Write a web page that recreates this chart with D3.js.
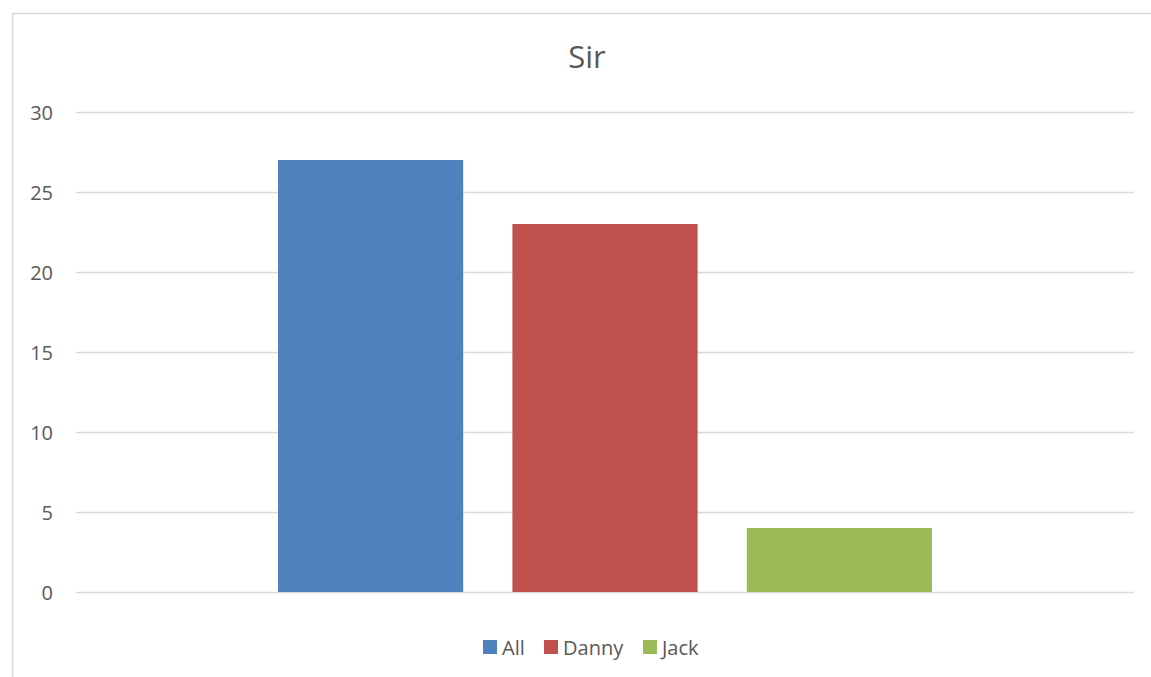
<!DOCTYPE html>
<html><head><meta charset="utf-8">
<script src="https://cdn.jsdelivr.net/npm/d3@7"></script>
<style>body{margin:0;background:#fff;} svg{display:block;}</style>
</head><body>
<svg id="c" width="1151" height="677"></svg>
<script>
const title = "Sir";
const seriesNames = ["All", "Danny", "Jack"];
const seriesValues = [27, 23, 4];
const seriesColors = ["#4F81BD", "#C0504D", "#9BBB59"];
const yTicks = [0, 5, 10, 15, 20, 25, 30];

const svg = d3.select("#c");
const font = "'Open Sans', 'Noto Sans', sans-serif";
const textColor = "#595959";

// chart border
svg.append("rect").attr("x", 12.5).attr("y", 13.5).attr("width", 1160).attr("height", 700)
  .attr("fill", "none").attr("stroke", "#D9D9D9").attr("stroke-width", 1.5);

const plotLeft = 76, plotRight = 1134;
const y = d3.scaleLinear().domain([0, 30]).range([592, 112]);
const x = d3.scaleBand().domain(seriesNames).range([278, 932]).paddingInner(0.21).paddingOuter(0);

// gridlines
svg.append("g").selectAll("line").data(yTicks).join("line")
  .attr("x1", plotLeft).attr("x2", plotRight)
  .attr("y1", d => Math.round(y(d)) + 0.5).attr("y2", d => Math.round(y(d)) + 0.5)
  .attr("stroke", "#D9D9D9").attr("stroke-width", 1.5);

// y axis labels
const yAxis = d3.axisLeft(y).tickValues(yTicks).tickSize(0).tickPadding(0);
const ga = svg.append("g").attr("transform", "translate(53,0)").call(yAxis);
ga.select(".domain").remove();
ga.selectAll("text").attr("font-family", font).attr("font-size", 20).attr("fill", textColor).attr("dy", "0.35em");

// bars
svg.append("g").selectAll("rect").data(seriesNames).join("rect")
  .attr("x", d => x(d)).attr("width", x.bandwidth())
  .attr("y", (d, i) => y(seriesValues[i])).attr("height", (d, i) => y(0) - y(seriesValues[i]))
  .attr("fill", (d, i) => seriesColors[i]);

// title
svg.append("text").attr("x", 587).attr("y", 68).attr("text-anchor", "middle")
  .attr("font-family", font).attr("font-size", 31).attr("fill", textColor).text(title);

// legend
const legendX = [483, 544, 643];
const lg = svg.append("g").selectAll("g").data(seriesNames).join("g")
  .attr("transform", (d, i) => `translate(${legendX[i]},640)`);
lg.append("rect").attr("width", 14).attr("height", 14).attr("fill", (d, i) => seriesColors[i]);
lg.append("text").attr("x", 19).attr("y", 15).attr("font-family", font).attr("font-size", 20)
  .attr("fill", textColor).text(d => d);
</script>
</body></html>
